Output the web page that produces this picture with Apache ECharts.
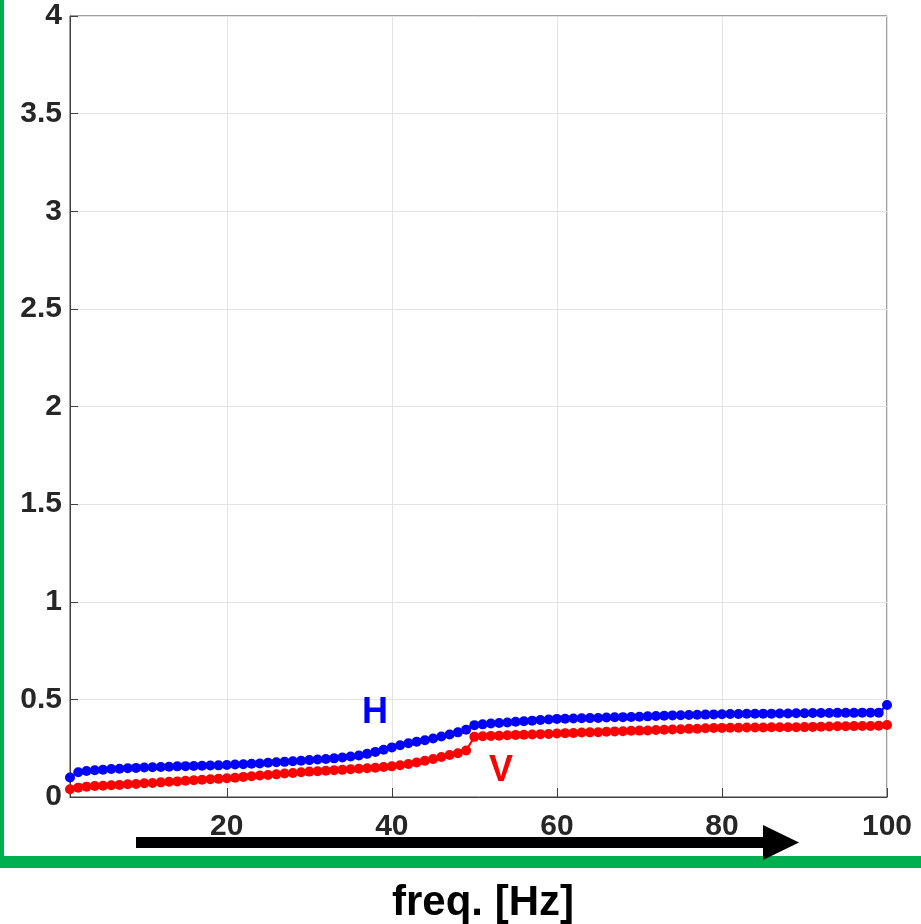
<!DOCTYPE html>
<html lang="en">
<head>
    <meta charset="UTF-8">
    <title>H / V vs freq</title>
    <style>
        html, body { margin: 0; padding: 0; background: #fff; }
        #chart { width: 921px; height: 924px; }
    </style>
</head>
<body>
<div id="chart"></div>
<script src="https://cdn.jsdelivr.net/npm/echarts@6/dist/echarts.min.js"></script>
<script>
    // frequency samples [Hz]
    var freqs = [
        1,2,3,4,5,6,7,8,9,10,11,12,13,14,15,16,17,18,19,20,
        21,22,23,24,25,26,27,28,29,30,31,32,33,34,35,36,37,38,39,40,
        41,42,43,44,45,46,47,48,49,50,51,52,53,54,55,56,57,58,59,60,
        61,62,63,64,65,66,67,68,69,70,71,72,73,74,75,76,77,78,79,80,
        81,82,83,84,85,86,87,88,89,90,91,92,93,94,95,96,97,98,99,100
    ];
    // H (blue)
    var hValues = [
        0.100,0.127,0.133,0.137,0.140,0.143,0.145,0.147,0.149,0.151,
        0.152,0.154,0.155,0.157,0.158,0.159,0.160,0.161,0.162,0.164,
        0.166,0.168,0.170,0.172,0.175,0.178,0.180,0.183,0.186,0.189,
        0.192,0.195,0.198,0.202,0.207,0.213,0.221,0.231,0.242,0.254,
        0.265,0.275,0.283,0.291,0.300,0.310,0.320,0.331,0.345,0.368,
        0.372,0.376,0.379,0.382,0.385,0.388,0.391,0.394,0.397,0.400,
        0.401,0.402,0.403,0.404,0.405,0.407,0.408,0.409,0.410,0.411,
        0.413,0.415,0.416,0.418,0.419,0.420,0.421,0.422,0.423,0.424,
        0.425,0.425,0.426,0.426,0.427,0.427,0.428,0.428,0.429,0.429,
        0.430,0.430,0.430,0.431,0.431,0.431,0.432,0.432,0.432,0.471
    ];
    // V (red)
    var vValues = [
        0.040,0.048,0.053,0.056,0.058,0.060,0.062,0.065,0.067,0.070,
        0.072,0.075,0.078,0.080,0.083,0.086,0.088,0.091,0.093,0.096,
        0.099,0.103,0.106,0.110,0.113,0.116,0.120,0.123,0.127,0.130,
        0.132,0.134,0.137,0.139,0.142,0.145,0.147,0.150,0.154,0.157,
        0.163,0.169,0.177,0.186,0.195,0.205,0.215,0.224,0.238,0.308,
        0.311,0.313,0.314,0.316,0.318,0.319,0.320,0.322,0.323,0.325,
        0.327,0.328,0.330,0.331,0.332,0.334,0.336,0.337,0.339,0.340,
        0.341,0.343,0.344,0.346,0.347,0.349,0.350,0.352,0.353,0.354,
        0.355,0.355,0.356,0.356,0.356,0.357,0.357,0.357,0.357,0.358,
        0.359,0.360,0.361,0.362,0.362,0.363,0.364,0.364,0.365,0.369
    ];
    var xTicks = [20, 40, 60, 80, 100];

    var tickFont = {
        fontFamily: 'Liberation Sans, Arial, sans-serif',
        fontWeight: 'bold',
        fontSize: 30,
        color: '#262626'
    };

    function pairs(ys) {
        return freqs.map(function (f, i) { return [f, ys[i]]; });
    }

    var chart = echarts.init(document.getElementById('chart'));
    var option = {
        animation: false,
        backgroundColor: '#fff',
        grid: {
            left: 70, top: 16, right: 34, bottom: 127,
            show: true,
            borderColor: '#404040',
            borderWidth: 1
        },
        xAxis: {
            type: 'value',
            min: 1,
            max: 100,
            axisLine: { lineStyle: { color: '#404040', width: 1 } },
            axisTick: { inside: true, length: 9, customValues: xTicks, lineStyle: { color: '#404040' } },
            axisLabel: Object.assign({ margin: 15, customValues: xTicks }, tickFont),
            splitLine: { show: true, lineStyle: { color: '#e3e3e3', width: 1 } }
        },
        yAxis: {
            type: 'value',
            min: 0,
            max: 4,
            interval: 0.5,
            axisLine: { show: true, lineStyle: { color: '#404040', width: 1 } },
            axisTick: { show: true, inside: true, length: 8, lineStyle: { color: '#404040' } },
            axisLabel: Object.assign({ margin: 8 }, tickFont),
            splitLine: { show: true, lineStyle: { color: '#e3e3e3', width: 1 } }
        },
        series: [
            {
                name: 'H',
                type: 'line',
                data: pairs(hValues),
                symbol: 'circle',
                symbolSize: 10,
                showAllSymbol: true,
                itemStyle: { color: '#0000ff' },
                lineStyle: { color: '#0000ff', width: 2 }
            },
            {
                name: 'V',
                type: 'line',
                data: pairs(vValues),
                symbol: 'circle',
                symbolSize: 10,
                showAllSymbol: true,
                itemStyle: { color: '#ff0000' },
                lineStyle: { color: '#ff0000', width: 2 }
            }
        ],
        graphic: [
            // green frame
            { type: 'rect', shape: { x: 0, y: 0, width: 4, height: 868 }, style: { fill: '#00b050' }, z: 100 },
            { type: 'rect', shape: { x: 0, y: 856, width: 921, height: 12 }, style: { fill: '#00b050' }, z: 100 },
            // black arrow
            { type: 'rect', shape: { x: 136, y: 837, width: 630, height: 11 }, style: { fill: '#000' }, z: 100 },
            { type: 'polygon', shape: { points: [[763, 825], [799, 842.5], [763, 860]] }, style: { fill: '#000' }, z: 100 },
            // series labels
            {
                type: 'text', x: 375, y: 713, z: 100,
                style: { text: 'H', fill: '#0000ff', font: 'bold 36px Liberation Sans, Arial, sans-serif', align: 'center', verticalAlign: 'middle' }
            },
            {
                type: 'text', x: 501, y: 771, z: 100,
                style: { text: 'V', fill: '#ff0000', font: 'bold 36px Liberation Sans, Arial, sans-serif', align: 'center', verticalAlign: 'middle' }
            },
            // axis title
            {
                type: 'text', x: 483, y: 903, z: 100,
                style: { text: 'freq. [Hz]', fill: '#000', font: 'bold 42px Liberation Sans, Arial, sans-serif', align: 'center', verticalAlign: 'middle' }
            }
        ]
    };
    chart.setOption(option);
</script>
</body>
</html>
